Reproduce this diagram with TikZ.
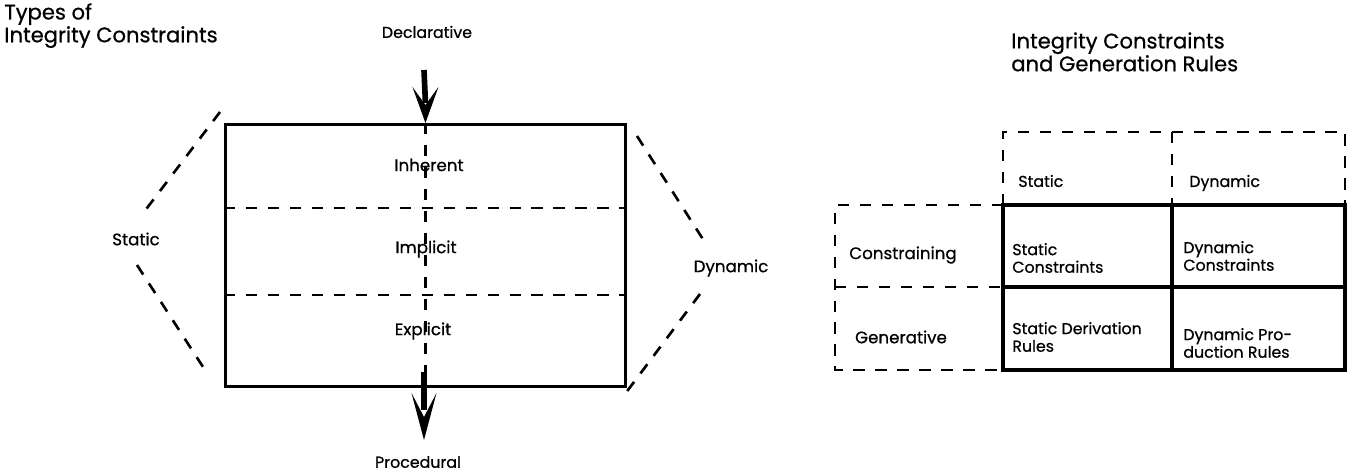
\documentclass[tikz,border=0pt]{standalone}
\usepackage{fontspec}
\setmainfont{Poppins}[FakeBold=0.7]
\usetikzlibrary{arrows.meta}
\begin{document}
\begin{tikzpicture}[x=0.02cm,y=-0.02cm,
  dsh/.style={line width=1.5pt, dash pattern=on 6.5pt off 6pt},
  solidbox/.style={line width=1.7pt},
  thickline/.style={line width=2.2pt},
  shaft/.style={line width=3.2pt},
  lbl/.style={font=\fontsize{9.5}{11}\selectfont, inner sep=1pt},
  small/.style={font=\fontsize{9}{10}\selectfont, inner sep=1pt},
  cell/.style={font=\fontsize{9}{10}\selectfont, align=left, anchor=west, inner sep=0pt},
  title/.style={font=\fontsize{12}{13}\selectfont, align=left, anchor=north west, inner sep=0pt}]
\useasboundingbox (0,0) rectangle (1357,475);
% titles
\node[title] (t1) at (4,3) {Types of\\Integrity Constraints};
\node[title] (t2) at (1011,32) {Integrity Constraints\\and Generation Rules};
% left diagram
\node[draw, solidbox, minimum width=8cm, minimum height=5.24cm, anchor=north west, inner sep=0pt] (box) at (224,123) {};
\coordinate (r1w) at (224,208); \coordinate (r1e) at (624,208);
\coordinate (r2w) at (224,295); \coordinate (r2e) at (624,295);
\draw[dsh] (r1w) -- (r1e);
\draw[dsh] (r2w) -- (r2e);
\draw[dsh] (box.north) -- (box.south);
\node[small] (decl) at (427,32) {Declarative};
\node[small] (proc) at (418,462) {Procedural};
\node[lbl] (inh) at (429,165) {Inherent};
\node[lbl] (imp) at (426,249) {Implicit};
\node[lbl] (exp) at (423,331) {Explicit};
\coordinate (atop) at (424,70);
\coordinate (abot) at (424,372);
\coordinate (abottip) at (424,440);
% top arrow: shaft + head
\draw[shaft] (atop) -- ([yshift=0.4cm]box.north);
\fill (box.north) -- ++(-13,-36) -- ++(13,18) -- ++(13,-18) -- cycle;
% bottom arrow: shaft + head
\draw[shaft] (abot) -- ([yshift=0.6cm]abottip);
\fill (abottip) -- ++(-12.5,-47) -- ++(12.5,24) -- ++(12.5,-24) -- cycle;
% static bracket
\node[lbl] (static) at (136,239) {Static};
\coordinate (s1) at (220,112); \coordinate (s2) at (144,212);
\coordinate (s3) at (137,265); \coordinate (s4) at (205,370);
\draw[dsh] (s1) -- (s2);
\draw[dsh] (s3) -- (s4);
% dynamic bracket
\node[lbl] (dyn) at (731,268) {Dynamic};
\coordinate (d1) at (637,136); \coordinate (d2) at (706,244);
\coordinate (d3) at (700,294); \coordinate (d4) at (625,394);
\draw[dsh] (d1) -- (d2);
\draw[dsh] (d3) -- (d4);
% right table
\coordinate (A) at (1003,205); \coordinate (B) at (1172,205); \coordinate (C) at (1345,205);
\coordinate (D) at (1003,287); \coordinate (E) at (1345,287);
\coordinate (F) at (1003,370); \coordinate (G) at (1172,370); \coordinate (H) at (1345,370);
\coordinate (HA) at (1003,132); \coordinate (HB) at (1172,132); \coordinate (HC) at (1345,132);
\coordinate (LA) at (835,205); \coordinate (LD) at (835,287); \coordinate (LF) at (835,370);
\draw[dsh] (A) -- (HA) -- (HC) -- (C);
\draw[dsh] (HB) -- (B);
\draw[dsh] (A) -- (LA) -- (LF) -- (F);
\draw[dsh] (LD) -- (D);
\draw[thickline] (A) rectangle (H);
\draw[thickline] (D) -- (E);
\draw[thickline] (B) -- (G);
\node[cell] (hs) at (1018,181) {Static};
\node[cell] (hd) at (1189,183) {Dynamic};
\node[lbl] (con) at (903,255) {Constraining};
\node[lbl] (gen) at (901,337) {Generative};
\node[cell] (c11) at (1012,258) {Static\\Constraints};
\node[cell] (c12) at (1183,256) {Dynamic\\Constraints};
\node[cell] (c21) at (1012,337) {Static Derivation\\Rules};
\node[cell] (c22) at (1183,343) {Dynamic Pro-\\duction Rules};
\end{tikzpicture}
\end{document}
